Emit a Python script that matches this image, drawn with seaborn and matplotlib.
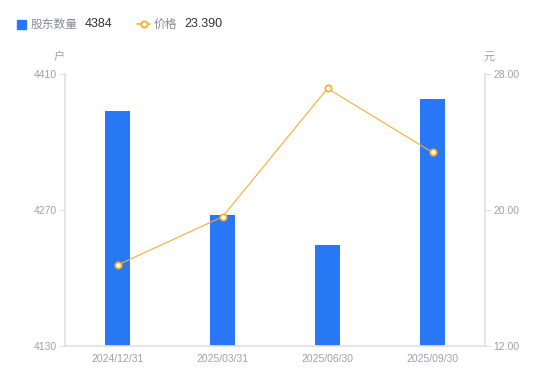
import matplotlib
matplotlib.use("Agg")
import matplotlib.pyplot as plt
import seaborn as sns
import pandas as pd
from matplotlib.patches import Rectangle
from matplotlib.lines import Line2D

dates = ["2024/12/31", "2025/03/31", "2025/06/30", "2025/09/30"]
holders = [4372, 4265, 4234, 4384]
prices = [16.76, 19.60, 27.15, 23.39]
left_ticks = [4130, 4270, 4410]
right_ticks = [12.00, 20.00, 28.00]

sns.set_theme(style="white")
plt.rcParams['font.family'] = ['Liberation Sans', 'Noto Sans CJK SC', 'DejaVu Sans']

BLUE = "#2877F5"
ORANGE = "#F6AE33"
TICK = "#A0A0B0"
SPINE = "#E0E0E6"

df = pd.DataFrame({"date": dates, "holders": holders, "price": prices})

fig = plt.figure(figsize=(5.5, 3.81), dpi=100)
ax = fig.add_axes([65/550, 1-346/381, 420/550, 272/381])
sns.barplot(data=df, x="date", y="holders", color=BLUE, width=0.24,
            saturation=1, ax=ax, edgecolor="none")
ax.set_ylim(4130, 4410)
ax.set_yticks(left_ticks)
ax.set_yticklabels([str(t) for t in left_ticks])
ax.set_xlim(-0.5, 3.5)
ax.set_xlabel("")
ax.set_ylabel("")

ax2 = ax.twinx()
sns.lineplot(data=df, x="date", y="price", ax=ax2, color=ORANGE, linewidth=0.8,
             marker="o", markersize=4.5, markerfacecolor="white",
             markeredgecolor=ORANGE, markeredgewidth=1.3)
ax2.set_ylim(12, 28)
ax2.set_yticks(right_ticks)
ax2.set_yticklabels([f"{t:.2f}" for t in right_ticks])
ax2.set_ylabel("")
ax2.set_xlabel("")
ax2.set_xlim(-0.5, 3.5)

for a in (ax, ax2):
    for s in a.spines.values():
        s.set_visible(False)
    a.grid(False)

ax.spines['left'].set_visible(True)
ax.spines['left'].set_color(SPINE)
ax.spines['bottom'].set_visible(True)
ax.spines['bottom'].set_color(SPINE)
ax2.spines['right'].set_visible(True)
ax2.spines['right'].set_color(SPINE)

ax.tick_params(axis='y', colors=TICK, labelsize=7.5, length=4, width=0.8, color=SPINE, pad=2)
ax.tick_params(axis='x', colors=TICK, labelsize=7.5, length=0, pad=6)
ax2.tick_params(axis='y', colors=TICK, labelsize=7.5, length=4, width=0.8, color=SPINE, pad=2)

# unit labels
fig.text(59/550, 1-57/381, "户", color=TICK, fontsize=8, ha="center", va="center",
         family=['Noto Sans CJK SC'])
fig.text(489/550, 1-57/381, "元", color=TICK, fontsize=8, ha="center", va="center",
         family=['Noto Sans CJK SC'])

# legend
fig.patches.append(Rectangle((17/550, 1-29/381), 9/550, 9/381, transform=fig.transFigure,
                             color=BLUE, figure=fig))
fig.text(31/550, 1-24/381, "股东数量", color="#888899", fontsize=8.5, va="center",
         family=['Noto Sans CJK SC'])
fig.text(85/550, 1-24/381, "4384", color="#333333", fontsize=9, va="center")
fig.lines.append(Line2D([137/550, 150/550], [1-24/381, 1-24/381], transform=fig.transFigure,
                        color=ORANGE, linewidth=1.2, figure=fig))
fig.lines.append(Line2D([143.5/550], [1-24/381], transform=fig.transFigure,
                        color=ORANGE, marker="o", markersize=4.5, markerfacecolor="white",
                        markeredgewidth=1.3, linestyle="none", figure=fig))
fig.text(154/550, 1-24/381, "价格", color="#888899", fontsize=8.5, va="center",
         family=['Noto Sans CJK SC'])
fig.text(184/550, 1-24/381, "23.390", color="#333333", fontsize=9, va="center")

fig.savefig("out.png", dpi=100)
